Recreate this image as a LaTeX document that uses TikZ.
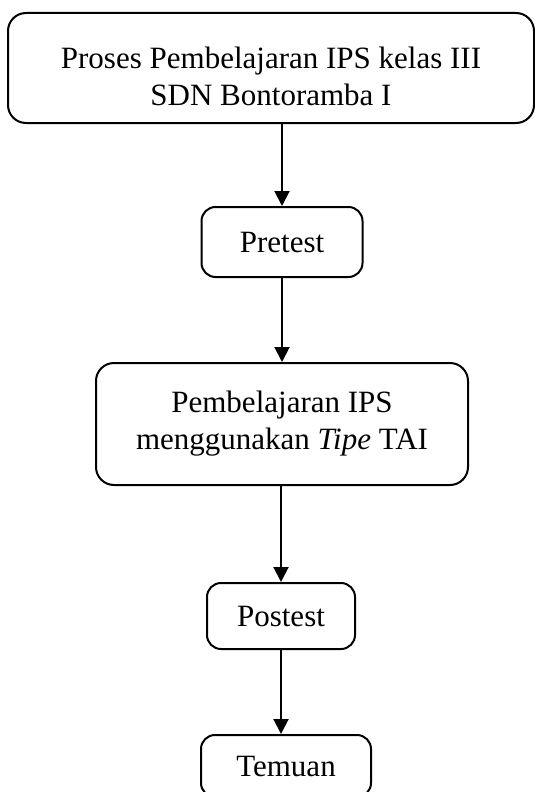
\documentclass[tikz,border=0pt]{standalone}
\usepackage{fontspec}
\setmainfont{Liberation Serif}
\usetikzlibrary{arrows.meta}
\begin{document}
\begin{tikzpicture}[x=1pt,y=-1pt,
 box/.style={draw,line width=2pt,rounded corners=18pt,align=center,inner sep=0pt,font=\fontsize{31}{37}\selectfont},
 arr/.style={line width=2pt,-{Triangle[length=15pt,width=15pt]}}]
 \useasboundingbox (0,0) rectangle (535,792);
 \clip (0,0) rectangle (535,792);
 \node[box,minimum width=526pt,minimum height=110pt](proses) at (271,68) {\rule{0pt}{39pt}Proses Pembelajaran IPS kelas III\\SDN Bontoramba I};
 \node[box,rounded corners=14pt,minimum width=161pt,minimum height=70pt](pretest) at (282,242) {Pretest};
 \node[box,minimum width=372pt,minimum height=122pt](pembelajaran) at (282,424) {Pembelajaran IPS\\menggunakan \textit{Tipe} TAI};
 \node[box,rounded corners=14pt,minimum width=148pt,minimum height=66pt](postest) at (281,616) {Postest};
 \node[box,rounded corners=14pt,minimum width=170pt,minimum height=62pt](temuan) at (286,766) {Temuan};
 \draw[arr](pretest.north |- proses.south)--(pretest.north);
 \draw[arr](pretest.south)--(pretest.south |- pembelajaran.north);
 \draw[arr](postest.north |- pembelajaran.south)--(postest.north);
 \draw[arr](postest.south)--(postest.south |- temuan.north);
\end{tikzpicture}
\end{document}
